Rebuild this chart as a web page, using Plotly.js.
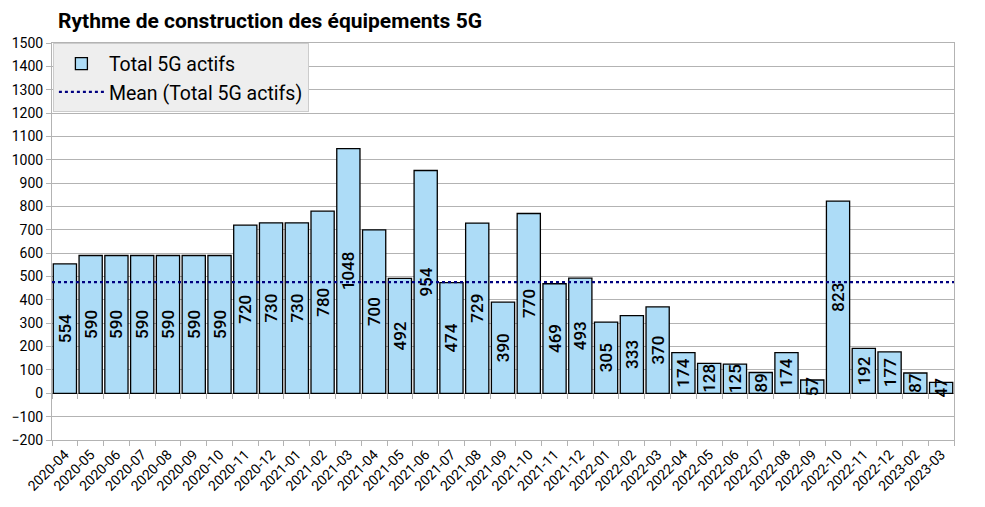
<!DOCTYPE html>
<html>
<head>
<meta charset="utf-8">
<script src="https://cdn.plot.ly/plotly-3.0.1.min.js"></script>
<style>html,body{margin:0;padding:0;background:#fff;}#chart{width:985px;height:507px;}</style>
</head>
<body>
<div id="chart"></div>
<script>
const categories = ["2020-04","2020-05","2020-06","2020-07","2020-08","2020-09","2020-10","2020-11","2020-12","2021-01","2021-02","2021-03","2021-04","2021-05","2021-06","2021-07","2021-08","2021-09","2021-10","2021-11","2021-12","2022-01","2022-02","2022-03","2022-04","2022-05","2022-06","2022-07","2022-08","2022-09","2022-10","2022-11","2022-12","2023-02","2023-03"];
const totalActifs = [554,590,590,590,590,590,590,720,730,730,780,1048,700,492,954,474,729,390,770,469,493,305,333,370,174,128,125,89,174,57,823,192,177,87,47];
const seriesName = "Total 5G actifs";
const meanName = "Mean (Total 5G actifs)";
const chartTitle = "Rythme de construction des équipements 5G";

const meanValue = totalActifs.reduce((a, b) => a + b, 0) / totalActifs.length;
const n = categories.length;
const yMin = -200, yMax = 1500;

const gridCol = "#b3b3b3";
const fontFam = "Roboto, 'Liberation Sans', sans-serif";

const traces = [
  {
    type: "bar",
    name: seriesName,
    x: categories,
    y: totalActifs,
    marker: {color: "#addcf7", line: {color: "#000000", width: 1.3}},
    text: totalActifs.map(String),
    textposition: "inside",
    insidetextanchor: "middle",
    textangle: -90,
    constraintext: "none",
    textfont: {family: fontFam, size: 17, color: "#000000", weight: 500},
    hoverinfo: "skip",
    xaxis: "x", yaxis: "y"
  },
  {
    type: "scatter",
    mode: "lines",
    name: meanName,
    x: [-0.5, n - 0.5],
    y: [meanValue, meanValue],
    line: {color: "#000080", width: 2.2, dash: "dot"},
    hoverinfo: "skip",
    xaxis: "x2", yaxis: "y"
  }
];

const layout = {
  width: 985, height: 507,
  margin: {l: 52, r: 31, t: 43, b: 67},
  paper_bgcolor: "#ffffff",
  plot_bgcolor: "#ffffff",
  font: {family: fontFam, size: 14, color: "#000000"},
  title: {
    text: "<b>" + chartTitle + "</b>",
    font: {family: fontFam, size: 21, color: "#000000"},
    xref: "container", x: 58/985, xanchor: "left",
    yref: "container", y: 1 - 21/507, yanchor: "middle"
  },
  showlegend: true,
  legend: {
    x: 0.001, y: 0.999, xanchor: "left", yanchor: "top",
    bgcolor: "#eeeeee", bordercolor: "#cccccc", borderwidth: 1,
    font: {family: fontFam, size: 19.5, color: "#000000"},
    itemwidth: 45,
    tracegroupgap: 2
  },
  bargap: 0.1,
  xaxis: {
    type: "category",
    categoryarray: categories,
    range: [-0.5, n - 0.5],
    tickson: "boundaries",
    ticks: "outside", ticklen: 5, tickcolor: gridCol,
    tickangle: -45,
    tickfont: {family: fontFam, size: 14, color: "#000000"},
    showgrid: false,
    showline: true, linecolor: gridCol, linewidth: 1, mirror: true,
    fixedrange: true
  },
  xaxis2: {
    overlaying: "x",
    anchor: "free",
    position: (0 - yMin) / (yMax - yMin),
    range: [-0.5, n - 0.5],
    tick0: -0.5, dtick: 1,
    ticks: "outside", ticklen: 5, tickcolor: gridCol,
    showticklabels: false,
    showgrid: false, zeroline: false,
    showline: false,
    fixedrange: true
  },
  yaxis: {
    range: [yMin, yMax],
    dtick: 100,
    ticks: "outside", ticklen: 5, tickcolor: gridCol,
    tickfont: {family: fontFam, size: 14, color: "#000000"},
    showgrid: true, gridcolor: gridCol, gridwidth: 1,
    zeroline: false,
    showline: true, linecolor: gridCol, linewidth: 1, mirror: true,
    fixedrange: true
  }
};

Plotly.newPlot("chart", traces, layout, {displayModeBar: false, staticPlot: true});
</script>
</body>
</html>
